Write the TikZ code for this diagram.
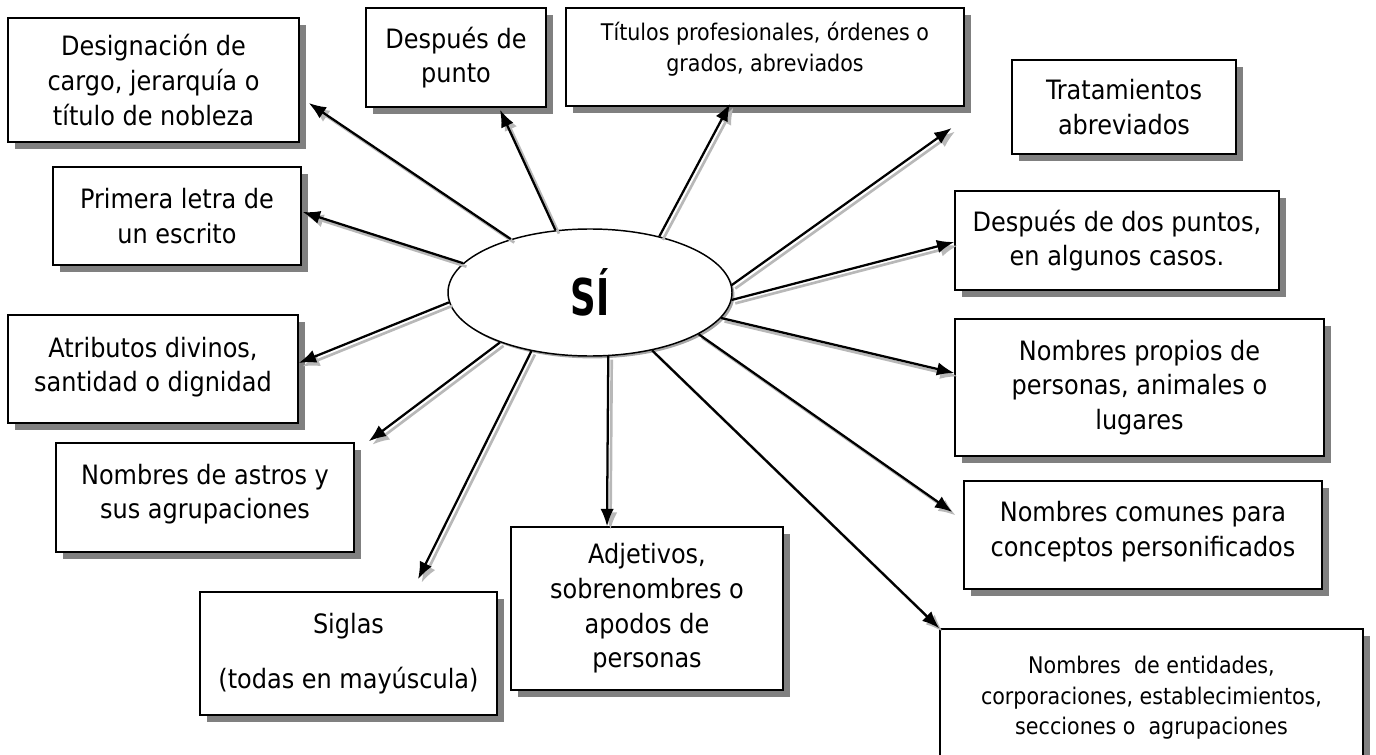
\documentclass[tikz,border=0pt]{standalone}
\usepackage{fontspec}
\setmainfont{DejaVu Sans Condensed}
\usetikzlibrary{positioning, calc, shapes, shadows, arrows.meta}

\begin{document}
\begin{tikzpicture}[x=0.75pt,y=-0.75pt,>={Latex[length=13pt,width=10pt]},
	box/.style={draw, line width=1.1pt, fill=white, align=center, inner sep=0pt,
		font=\fontsize{20}{26}\selectfont,
		drop shadow={shadow xshift=5.25pt, shadow yshift=-5.25pt, fill=black!50, opacity=1}},
	small/.style={font=\fontsize{17.2}{23}\selectfont},
	sz/.style 2 args={minimum width=#1*0.75pt, minimum height=#2*0.75pt},
	link/.style={->, line width=1.7pt,
		preaction={draw=black!28, line width=2pt, transform canvas={shift={(2.6pt,-2.6pt)}}}}]
	
	\useasboundingbox (0,0) rectangle (1376,755);
	
	%Centre
	\node[ellipse, draw, line width=1.1pt, fill=white, inner sep=0pt, sz={284}{127},
		drop shadow={shadow xshift=1.8pt, shadow yshift=-1.8pt, fill=black!35, opacity=1},
		font=\fontsize{38}{40}\bfseries\selectfont] (si) at (590,292.5) {\scalebox{0.78}[1]{SÍ}};
	
	%Boxes
	\node[box, sz={291}{124}] (desig) at (153.5,80) {Designación de\\cargo, jerarquía o\\título de nobleza};
	\node[box, sz={248}{98}] (primera) at (177,216) {Primera letra de\\un escrito};
	\node[box, sz={180}{99}] (punto) at (456,57.5) {Después de\\punto};
	\node[box, small, sz={398}{98}] (titulos) at (765,57)
		{Títulos profesionales, órdenes o\\grados, abreviados\\[-8pt]\mbox{}};
	\node[box, sz={224}{94}, line width=2pt] (trata) at (1124,107) {Tratamientos\\abreviados};
	\node[box, sz={324}{99}] (dospuntos) at (1117,240.5) {Después de dos puntos,\\en algunos casos.};
	\node[box, sz={369}{137}] (propios) at (1139.5,387.5) {Nombres propios de\\personas, animales o\\lugares};
	\node[box, sz={358}{108}] (comunes) at (1143,535) {Nombres comunes para\\conceptos personificados\\[-17pt]\mbox{}};
	\node[box, small, sz={423}{161}] (entidades) at (1151.5,709.5)
		{Nombres\ \ de entidades,\\corporaciones, establecimientos,\\secciones o\ \ agrupaciones\\[-2pt]\mbox{}};
	\node[box, sz={272}{163}] (adjetivos) at (647,608.5) {Adjetivos,\\sobrenombres o\\apodos de\\personas};
	\node[box, sz={297}{123}] (siglas) at (348.5,653.5) {Siglas\\[15pt](todas en mayúscula)};
	\node[box, sz={298}{109}] (astros) at (205,497.5) {Nombres de astros y\\sus agrupaciones\\[-17pt]\mbox{}};
	\node[box, sz={290}{108}] (atributos) at (153,369) {Atributos divinos,\\santidad o dignidad\\[-19pt]\mbox{}};
	
	%Arrows
	\draw[link] (si.146.7) -- ($(desig.east)+(9,23)$);
	\draw[link] (si.167.4) -- ($(primera.east)+(1,-4)$);
	\draw[link] (si.119.8) -- ($(punto.south)+(44,2)$);
	\draw[link] (si.39.9) -- ($(titulos.south)+(-35,-3)$);
	\draw[link] (si.3.8) -- ($(trata.west)+(-59,21)$);
	\draw[link] (si.-3) -- ($(dospuntos.west)+(0,1.5)$);
	\draw[link] (si.-11.7) -- ($(propios.west)+(0,-14.5)$);
	\draw[link] (si.-21.7) -- ($(comunes.west)+(-11,-23)$);
	\draw[link] (si.-43.8) -- (entidades.north west);
	\draw[link] (si.-74.8) -- ($(adjetivos.north)+(-40,0)$);
	\draw[link] (si.-135.7) -- ($(siglas.north)+(69.5,-12)$);
	\draw[link] (si.-151.3) -- ($(astros.north east)+(14,-1)$);
	\draw[link] (si.-176.2) -- ($(atributos.east)+(0,-6)$);
	
\end{tikzpicture}
\end{document}
